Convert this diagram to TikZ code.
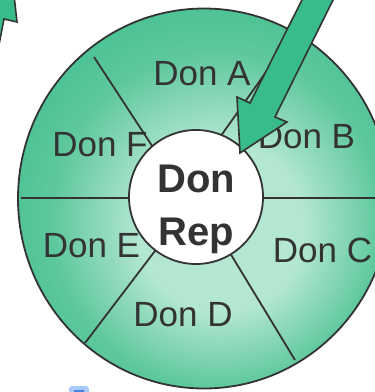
\documentclass[tikz,border=0pt]{standalone}
\usepackage{fontspec}
\setmainfont{Liberation Sans}
\usetikzlibrary{shapes.geometric}
\definecolor{dgreen}{RGB}{56,188,138}
\definecolor{dmid}{RGB}{95,200,157}
\definecolor{dlight}{RGB}{180,231,210}
\definecolor{dline}{RGB}{51,51,51}
\definecolor{iconlight}{RGB}{168,202,250}
\definecolor{icondark}{RGB}{70,130,225}
\pgfdeclareradialshading{donshade}{\pgfpoint{3bp}{-5bp}}{color(0bp)=(dlight); color(11bp)=(dlight); color(22bp)=(dmid); color(34bp)=(dgreen); color(50bp)=(dgreen)}
\begin{document}
\begin{tikzpicture}[x=1pt,y=-1pt,
  outl/.style={draw=dline,line width=1.8pt},
  spokeline/.style={draw=dline,line width=1.8pt},
  lbl/.style={text=dline,anchor=base,inner sep=0pt,font=\fontsize{35}{40}\selectfont},
  replbl/.style={text=dline,anchor=base,inner sep=0pt,font=\bfseries\fontsize{40}{48}\selectfont},
  blockarrow/.style={fill=dgreen,draw=dline,line width=1.6pt,line join=miter}]
\useasboundingbox (0,0) rectangle (375,392);
\clip (0,0) rectangle (375,392);
% big wheel
\node[ellipse,inner sep=0pt,minimum width=372pt,minimum height=380pt,
  shade,shading=donshade,outl] (wheel) at (204,198.5) {};
% spoke end points
\coordinate (c) at (196,197);
\coordinate (tlo) at (94,57);
\coordinate (tli) at (160,158);
\coordinate (tro) at (290,38);
\coordinate (tri) at (206,157);
\coordinate (lo) at (21,198);
\coordinate (li) at (196,198);
\coordinate (ro) at (380,198);
\coordinate (blo) at (85,343);
\coordinate (bro) at (295,360);
\draw[spokeline] (tlo) -- (tli);
\draw[spokeline] (tro) -- (tri);
\draw[spokeline] (lo) -- (li);
\draw[spokeline] (li) -- (ro);
\draw[spokeline] (blo) -- (c);
\draw[spokeline] (bro) -- (c);
% hub
\node[circle,fill=white,outl,inner sep=0pt,minimum size=134pt] (hub) at (196,197) {};
\node[replbl] (rep1) at (196,192) {Don};
\node[replbl] (rep2) at (196,245) {Rep};
% sector labels
\node[lbl] (da) at (202,85) {Don A};
\node[lbl] (db) at (306.5,148) {Don B};
\node[lbl] (dc) at (322.5,262) {Don C};
\node[lbl] (dd) at (183,326) {Don D};
\node[lbl] (de) at (91.5,257) {Don E};
\node[lbl] (df) at (100,156) {Don F};
% arrow into the hub
\draw[blockarrow] (304.5,-5) -- (250,103) -- (237,97) -- (240,153) -- (287,122) -- (275,117) -- (335.5,-5) -- cycle;
% arrow leaving at top left (cut off)
\draw[blockarrow] (14,-5) -- (17,22) -- (4,19) -- (-4,60) -- (-30,60) -- (-30,-5) -- cycle;
% small icon at bottom
\fill[iconlight,rounded corners=3pt] (69,386) rectangle (89,402);
\fill[icondark] (74,389.5) rectangle (84,392.5);
\end{tikzpicture}
\end{document}
